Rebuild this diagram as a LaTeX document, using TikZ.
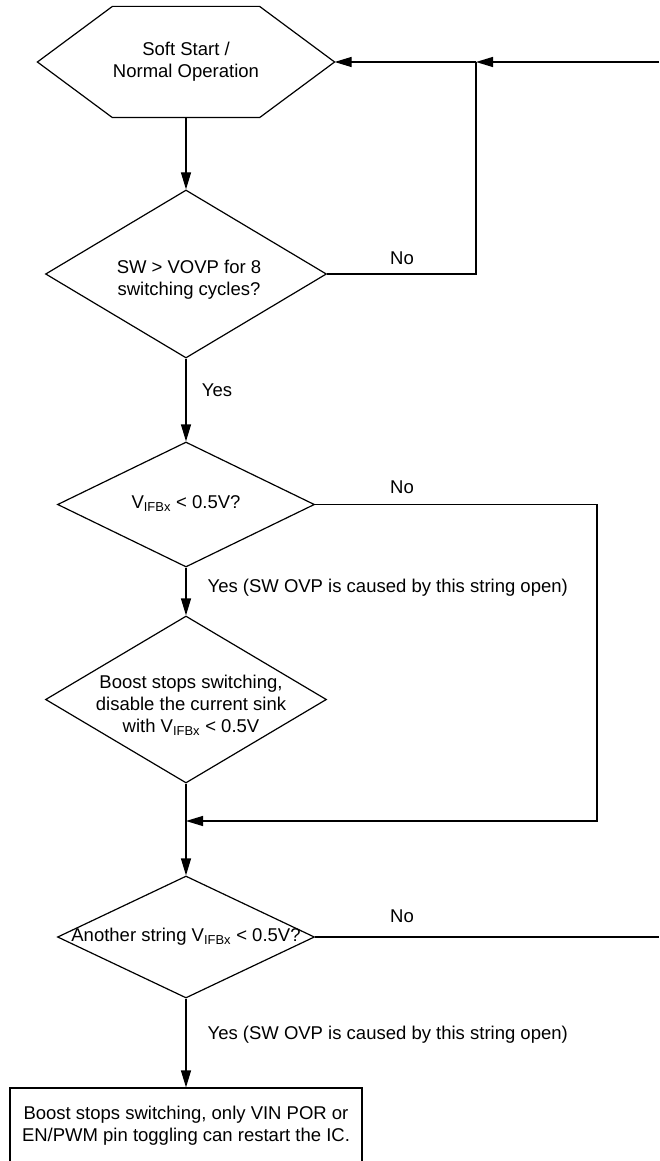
\documentclass[tikz,border=0pt]{standalone}
\usepackage{fontspec}
\setmainfont{Liberation Sans}
\usetikzlibrary{calc,arrows.meta,shapes.geometric}

\begin{document}
\begin{tikzpicture}[x=1pt, y=-1pt, line width=1.2pt,
		font=\fontsize{18.5}{22}\selectfont,
		flow/.style={-{Triangle[length=17pt,width=10pt]}},
		decision/.style={draw, diamond, inner sep=0pt},
		txt/.style={align=center, inner sep=0pt}]
		%%%%% START %%%%%
		
		\useasboundingbox (0,0) rectangle (659,1161);
		
		\node[txt, minimum width=296pt, minimum height=110pt] (start) at (186,62) {Soft Start /\\Normal Operation};
		\draw (start.west) -- ($(start.north west)+(75,0)$) -- ($(start.north east)+(-75,0)$) -- (start.east)
			-- ($(start.south east)+(-75,0)$) -- ($(start.south west)+(75,0)$) -- cycle;
		
		\node[decision, minimum width=281pt, minimum height=168pt] (ovp) at (186,274) {};
		\node[txt] (ovptxt) at (189,280) {SW > VOVP for 8\\switching cycles?};
		
		\node[decision, minimum width=257pt, minimum height=125pt] (ifb) at (186,504.5) {};
		\node[txt] (ifbtxt) at (186,504) {V\textsubscript{IFBx} < 0.5V?};
		
		\node[decision, minimum width=281pt, minimum height=167pt] (stop) at (186,699.5) {};
		\node[txt] (stoptxt) at (191,705) {Boost stops switching,\\disable the current sink\\with V\textsubscript{IFBx} < 0.5V};
		
		\node[decision, minimum width=257pt, minimum height=122pt] (other) at (186,937) {};
		\node[txt] (othertxt) at (186,937) {Another string V\textsubscript{IFBx} < 0.5V?};
		
		\node[draw, txt, minimum width=352pt, minimum height=75pt] (latch) at (186,1125.5) {Boost stops switching, only VIN POR or\\EN/PWM pin toggling can restart the IC.};
		
		\coordinate (loopin) at (659,62);
		\coordinate (join1) at (476,62);
		\coordinate (bypass) at (597,821);
		\coordinate (join2) at (186,821);
		\coordinate (noexit) at (659,937);
		
		\draw[flow] (start) -- (ovp);
		\draw[flow] (loopin) -- (join1);
		\draw[flow] (join1) -- (start.east);
		\draw (ovp.east) -| (join1);
		\draw[flow] (ovp.south) -- (ifb.north);
		\draw[flow] (ifb.east) -| (bypass) -- (join2);
		\draw[flow] (ifb.south) -- (stop.north);
		\draw (stop.south) -- (join2);
		\draw[flow] (join2) -- (other.north);
		\draw (other.east) -- (noexit);
		\draw[flow] (other.south) -- (latch.north);
		
		\node (no1) at (402,258) {No};
		\node (yes1) at (217,390) {Yes};
		\node (no2) at (402,487) {No};
		\node[anchor=west, inner sep=0pt] (yes2) at (207,588) {Yes (SW OVP is caused by this string open)};
		\node (no3) at (402,916) {No};
		\node[anchor=west, inner sep=0pt] (yes3) at (207,1035) {Yes (SW OVP is caused by this string open)};
		
		%%%%% END %%%%%
	\end{tikzpicture}
\end{document}
